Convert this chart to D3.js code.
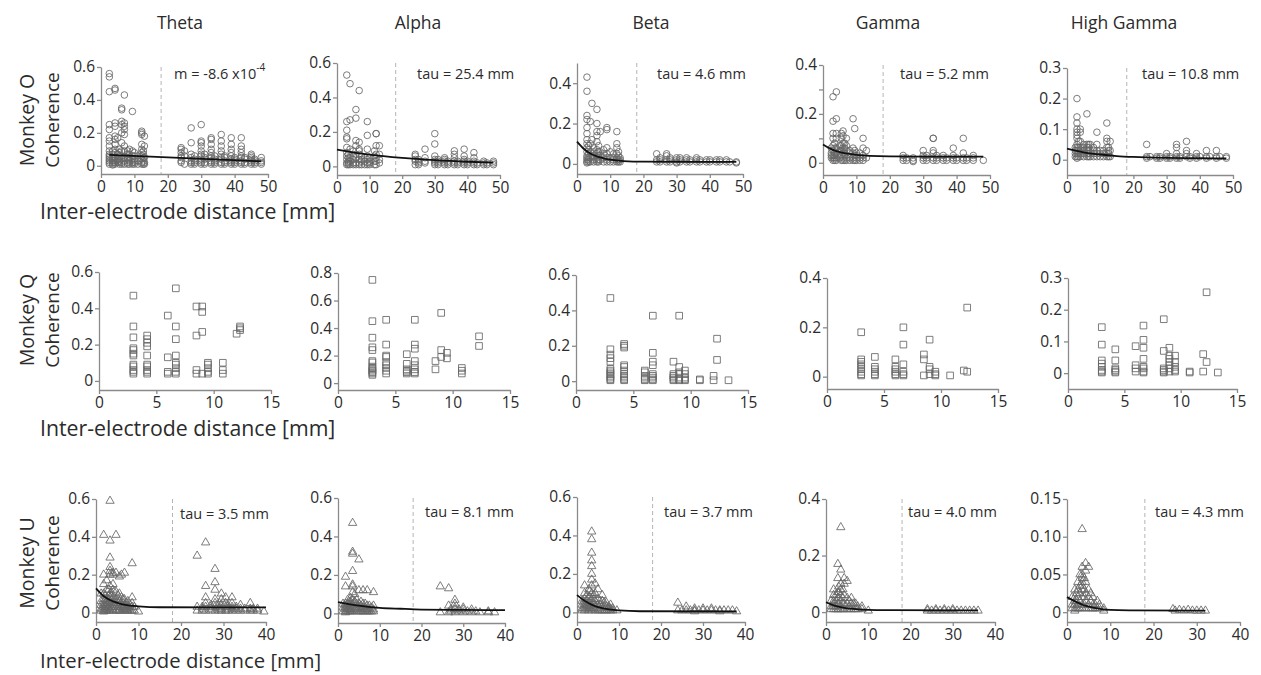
<!DOCTYPE html>
<html><head><meta charset="utf-8">
<script src="https://cdn.jsdelivr.net/npm/d3@7"></script>
<style>
body{margin:0;background:#fff;}
svg{display:block;font-family:"Open Sans","Noto Sans",sans-serif;}
</style></head><body>
<svg id="fig" width="1261" height="675"></svg>
<script>
const bands = ["Theta", "Alpha", "Beta", "Gamma", "High Gamma"];
const monkeys = ["Monkey O", "Monkey Q", "Monkey U"];
const yTitle = "Coherence";
const xTitle = "Inter-electrode distance [mm]";

// Coherence values grouped by inter-electrode distance: [distance, [coherence...]]
// Monkey O (circles)
const oTheta = [
  [2.5,[0.56,0.54,0.45,0.25,0.22,0.17,0.15,0.12,0.09,0.07,0.06,0.05,0.04,0.03,0.02,0.01]],
  [3.5,[0.09,0.07,0.05,0.04,0.03,0.02,0.01,0.005]],
  [4.2,[0.47,0.46,0.26,0.24,0.18,0.16,0.13,0.1,0.08,0.05,0.03,0.02,0.01]],
  [5,[0.17,0.07,0.04,0.02]],
  [5.5,[0.1,0.08,0.06,0.04,0.03,0.02,0.01]],
  [6.2,[0.35,0.34,0.27,0.25,0.2,0.14,0.09,0.06,0.04,0.02,0.01]],
  [7,[0.43,0.26,0.24,0.22,0.19,0.12,0.09,0.05,0.03,0.01]],
  [8,[0.09,0.07,0.05,0.04,0.02,0.01]],
  [8.5,[0.1,0.07,0.05,0.03,0.01]],
  [9.4,[0.33,0.09,0.06,0.04,0.02,0.01]],
  [10,[0.08,0.06,0.04,0.03,0.02,0.01]],
  [11,[0.06,0.03,0.01]],
  [12.2,[0.21,0.2,0.19,0.13,0.1,0.08,0.06,0.04,0.02,0.01]],
  [12.7,[0.09,0.07,0.05,0.03,0.01]],
  [13,[0.18,0.12,0.05,0.02,0.01]],
  [24,[0.11,0.1,0.08,0.06,0.05,0.03,0.02]],
  [25,[0.09,0.06,0.01]],
  [27,[0.23,0.14,0.07,0.05,0.03,0.02,0.01]],
  [28,[0.06,0.04,0.03,0.02,0.01]],
  [30,[0.25,0.15,0.14,0.12,0.09,0.07,0.06,0.04,0.03,0.02,0.01]],
  [31,[0.07,0.05,0.04,0.02,0.01]],
  [33,[0.17,0.16,0.13,0.1,0.08,0.06,0.05,0.03,0.02,0.01]],
  [34,[0.06,0.04,0.03,0.02,0.01]],
  [36,[0.19,0.15,0.12,0.09,0.07,0.05,0.04,0.02,0.01]],
  [37,[0.06,0.05,0.03,0.02,0.01]],
  [39,[0.17,0.13,0.1,0.08,0.06,0.04,0.03,0.02,0.01]],
  [40,[0.05,0.04,0.03,0.02,0.01]],
  [42,[0.17,0.12,0.1,0.08,0.06,0.05,0.03,0.02,0.01]],
  [43,[0.05,0.04,0.02,0.01]],
  [45,[0.07,0.06,0.05,0.04,0.03,0.02,0.01]],
  [46,[0.04,0.03,0.02,0.01]],
  [48,[0.05,0.03,0.02,0.01]]
];
const oAlpha = [
  [3,[0.53,0.26,0.21,0.17,0.16,0.11,0.08,0.06,0.04,0.02,0.01]],
  [3.5,[0.07,0.05,0.03,0.02,0.01]],
  [4,[0.48,0.27,0.1,0.05,0.03,0.01]],
  [5,[0.09,0.06,0.04,0.02,0.01]],
  [5.8,[0.33,0.28,0.15,0.12,0.07,0.05,0.02,0.01]],
  [6.8,[0.44,0.14,0.1,0.09,0.07,0.04,0.02,0.01]],
  [7.5,[0.06,0.04,0.03,0.01]],
  [8.5,[0.05,0.03,0.01]],
  [9.3,[0.26,0.18,0.1,0.06,0.04,0.02,0.01]],
  [10,[0.05,0.03,0.02,0.01]],
  [11.5,[0.09,0.06,0.03,0.01]],
  [12,[0.19,0.19,0.12,0.07,0.05,0.03,0.01]],
  [13,[0.12,0.07,0.04,0.02]],
  [24,[0.07,0.06,0.04,0.03,0.01]],
  [25,[0.04,0.03,0.02,0.01]],
  [27,[0.1,0.05,0.03,0.02]],
  [30,[0.19,0.13,0.06,0.04,0.03,0.02,0.01]],
  [31,[0.04,0.03,0.02,0.01]],
  [33,[0.05,0.04,0.03,0.02,0.01]],
  [34,[0.03,0.02,0.01]],
  [36,[0.09,0.07,0.05,0.03,0.02,0.01]],
  [37,[0.03,0.02,0.01]],
  [39,[0.1,0.06,0.04,0.03,0.02,0.01]],
  [40,[0.03,0.02,0.01]],
  [42,[0.08,0.05,0.03,0.02,0.01]],
  [43,[0.02,0.01]],
  [45,[0.03,0.02,0.01]],
  [46,[0.02,0.01]],
  [48,[0.03,0.02,0.01]]
];
const oBeta = [
  [3,[0.43,0.36,0.24,0.22,0.18,0.15,0.12,0.1,0.08,0.06,0.04,0.03,0.02,0.01,0.005]],
  [3.5,[0.09,0.07,0.05,0.03,0.02,0.01]],
  [4,[0.21,0.1,0.06,0.03,0.01]],
  [4.5,[0.3,0.12,0.04]],
  [5,[0.08,0.06,0.04,0.02,0.01]],
  [6,[0.27,0.2,0.16,0.14,0.11,0.07,0.05,0.03,0.02,0.01]],
  [6.5,[0.09,0.06,0.04,0.02,0.01]],
  [7,[0.16,0.06,0.04,0.02]],
  [8,[0.07,0.05,0.03,0.01]],
  [9,[0.18,0.17,0.08,0.05,0.03,0.02,0.01]],
  [10,[0.06,0.03,0.01]],
  [11,[0.05,0.03,0.02,0.01]],
  [12,[0.16,0.1,0.08,0.05,0.03,0.02,0.01]],
  [12.5,[0.06,0.04,0.02,0.01]],
  [13,[0.03,0.02,0.01]],
  [24,[0.05,0.02,0.01]],
  [25,[0.03,0.02,0.01]],
  [27,[0.05,0.04,0.02,0.01]],
  [28,[0.03,0.02,0.01]],
  [30,[0.03,0.02,0.01,0.005]],
  [31,[0.03,0.02,0.01]],
  [33,[0.03,0.02,0.01]],
  [34,[0.02,0.01]],
  [36,[0.03,0.02,0.01]],
  [37,[0.02,0.01]],
  [39,[0.02,0.01]],
  [40,[0.02,0.01]],
  [42,[0.02,0.01]],
  [43,[0.02,0.01]],
  [45,[0.02,0.01]],
  [46,[0.01]],
  [48,[0.01,0.005]]
];
const oGamma = [
  [2.5,[0.06,0.04,0.03,0.02]],
  [3,[0.27,0.17,0.12,0.1,0.07,0.05,0.03,0.02,0.01]],
  [3.5,[0.08,0.06,0.04,0.03,0.02,0.01]],
  [4,[0.29,0.18,0.12,0.1,0.06,0.04,0.02,0.01]],
  [5,[0.07,0.05,0.04,0.02]],
  [5.5,[0.12,0.1,0.07,0.05,0.03,0.01]],
  [6,[0.13,0.11,0.08,0.06,0.04,0.02,0.01]],
  [6.5,[0.08,0.06,0.04,0.03,0.01]],
  [7,[0.1,0.07,0.05,0.02,0.01]],
  [8,[0.05,0.04,0.02,0.01]],
  [9,[0.18,0.06,0.04,0.02,0.01]],
  [9.5,[0.14,0.05,0.03,0.01]],
  [10,[0.04,0.03,0.02,0.01]],
  [11,[0.04,0.02,0.01]],
  [12,[0.1,0.06,0.03,0.02,0.01]],
  [13,[0.05,0.02]],
  [24,[0.03,0.02,0.01]],
  [25,[0.02,0.01]],
  [27,[0.02,0.01,0.005]],
  [30,[0.05,0.03,0.02,0.01]],
  [31,[0.03,0.02,0.01]],
  [33,[0.1,0.1,0.05,0.04,0.02,0.01]],
  [34,[0.03,0.02,0.01]],
  [36,[0.03,0.02,0.01]],
  [37,[0.02,0.01]],
  [39,[0.06,0.03,0.02,0.01]],
  [40,[0.02,0.01]],
  [42,[0.1,0.04,0.02,0.01]],
  [43,[0.02,0.01]],
  [45,[0.03,0.02,0.01]],
  [48,[0.01]]
];
const oHighGamma = [
  [2.5,[0.04,0.03,0.02,0.01]],
  [3,[0.2,0.14,0.12,0.1,0.09,0.08,0.07,0.05,0.04,0.03,0.02,0.01,0.005]],
  [3.5,[0.06,0.04,0.03,0.02,0.01]],
  [4,[0.1,0.09,0.06,0.04,0.03,0.02,0.01]],
  [5,[0.05,0.04,0.03,0.02,0.01]],
  [6,[0.15,0.05,0.04,0.03,0.02,0.01]],
  [6.5,[0.05,0.04,0.03,0.02,0.01]],
  [7,[0.05,0.03,0.02,0.01]],
  [8,[0.04,0.03,0.02,0.01]],
  [9,[0.09,0.05,0.03,0.02,0.01]],
  [10,[0.03,0.02,0.01]],
  [11,[0.03,0.02,0.01]],
  [12,[0.12,0.07,0.06,0.04,0.02,0.01]],
  [12.5,[0.04,0.03,0.02,0.01]],
  [13,[0.06,0.03,0.01]],
  [24,[0.05,0.01,0.005]],
  [25,[0.01]],
  [27,[0.01,0.005]],
  [28,[0.01,0.005]],
  [30,[0.02,0.01,0.005]],
  [31,[0.01,0.005]],
  [33,[0.05,0.04,0.02,0.01,0.005]],
  [34,[0.01,0.005]],
  [36,[0.06,0.03,0.02,0.01]],
  [37,[0.01,0.005]],
  [39,[0.02,0.01,0.005]],
  [40,[0.01]],
  [42,[0.03,0.01,0.005]],
  [43,[0.01]],
  [45,[0.03,0.01,0.005]],
  [46,[0.01]],
  [48,[0.01,0.005]]
];

// Monkey Q (squares)
const qTheta = [
  [3,[0.47,0.3,0.24,0.18,0.17,0.15,0.14,0.09,0.08,0.06,0.05,0.04]],
  [4.2,[0.25,0.23,0.21,0.19,0.14,0.09,0.08,0.06,0.05,0.04]],
  [6,[0.36,0.13,0.05,0.04]],
  [6.7,[0.51,0.3,0.23,0.14,0.1,0.09,0.07,0.05,0.04]],
  [8.5,[0.41,0.25,0.06,0.04]],
  [9,[0.41,0.38,0.27,0.04]],
  [9.5,[0.1,0.09,0.07,0.05,0.04]],
  [10.8,[0.1,0.06,0.04]],
  [12,[0.26]],
  [12.3,[0.3,0.29,0.28]]
];
const qAlpha = [
  [3,[0.75,0.45,0.33,0.26,0.24,0.16,0.15,0.12,0.11,0.1,0.09,0.08,0.07,0.06]],
  [4.2,[0.46,0.28,0.2,0.19,0.15,0.13,0.11,0.09,0.07]],
  [6,[0.21,0.14,0.1,0.09,0.08,0.07]],
  [6.7,[0.46,0.28,0.25,0.16,0.13,0.1,0.08,0.07]],
  [8.5,[0.16,0.1]],
  [9,[0.51,0.24,0.19]],
  [9.5,[0.22,0.18]],
  [10.8,[0.11,0.09,0.07]],
  [12.3,[0.34,0.27]]
];
const qBeta = [
  [3,[0.47,0.18,0.15,0.13,0.11,0.07,0.06,0.05,0.04,0.03,0.02,0.01,0.005]],
  [4.2,[0.21,0.2,0.19,0.09,0.08,0.06,0.04,0.03,0.02,0.01,0.005]],
  [6,[0.06,0.05,0.03,0.02,0.01,0.005]],
  [6.7,[0.37,0.16,0.11,0.09,0.04,0.03,0.02,0.01,0.005]],
  [8.5,[0.11,0.04,0.03,0.02,0.01,0.005]],
  [9,[0.37,0.08,0.05,0.04,0.02,0.01,0.005]],
  [9.5,[0.06,0.04,0.02,0.01,0.005]],
  [10.8,[0.01,0.005]],
  [12,[0.03,0.005]],
  [12.3,[0.24,0.12]],
  [13.3,[0.005]]
];
const qGamma = [
  [3,[0.18,0.07,0.06,0.05,0.04,0.03,0.02,0.01,0.005]],
  [4.2,[0.08,0.04,0.03,0.02,0.01,0.005]],
  [6,[0.07,0.04,0.03,0.02,0.01,0.005]],
  [6.7,[0.2,0.13,0.05,0.02,0.01,0.005]],
  [8.5,[0.09,0.07,0.005]],
  [9,[0.15,0.04,0.03,0.01]],
  [9.5,[0.02,0.01,0.005]],
  [10.8,[0.005]],
  [12,[0.025]],
  [12.3,[0.28,0.02]]
];
const qHighGamma = [
  [3,[0.145,0.09,0.04,0.03,0.02,0.01,0.005,0.002]],
  [4.2,[0.075,0.04,0.015,0.01,0.005,0.002]],
  [6,[0.085,0.025,0.015,0.005]],
  [6.7,[0.15,0.105,0.08,0.045,0.02,0.015,0.005,0.002]],
  [8.5,[0.17,0.07,0.015,0.01,0.005,0.002]],
  [9,[0.08,0.055,0.045,0.035,0.025,0.015,0.005]],
  [9.5,[0.055,0.035,0.02,0.01,0.005]],
  [10.8,[0.005,0.002]],
  [12,[0.06,0.005]],
  [12.3,[0.255,0.035]],
  [13.3,[0.002]]
];

// Monkey U (triangles)
const uTheta = [
  [1.2,[0.1,0.06,0.04,0.02,0.01]],
  [1.8,[0.41,0.2,0.15,0.1,0.07,0.05,0.03,0.02,0.01,0.005]],
  [2.2,[0.09,0.07,0.05,0.03,0.01]],
  [2.5,[0.17,0.12,0.06,0.04,0.02,0.01]],
  [3,[0.12,0.09,0.07,0.05,0.03,0.01]],
  [3.3,[0.59,0.38,0.29,0.24,0.22,0.2,0.14,0.1,0.08,0.06,0.04,0.02,0.01]],
  [3.8,[0.1,0.07,0.05,0.03,0.02]],
  [4,[0.21,0.2,0.15,0.12,0.08,0.05,0.03,0.01]],
  [4.7,[0.41,0.21,0.11,0.07,0.05,0.03,0.01]],
  [5.2,[0.09,0.07,0.05,0.03,0.01]],
  [5.5,[0.19,0.1,0.06,0.04,0.02,0.01]],
  [6,[0.2,0.08,0.05,0.03,0.01]],
  [6.4,[0.07,0.05,0.03,0.02]],
  [6.7,[0.21,0.07,0.04,0.02,0.01]],
  [7.2,[0.05,0.03,0.02,0.01]],
  [7.5,[0.06,0.03,0.01]],
  [8,[0.04,0.02,0.01]],
  [8.5,[0.26,0.08,0.05,0.03,0.01]],
  [9,[0.03,0.01]],
  [10,[0.005]],
  [23.8,[0.3,0.03,0.01]],
  [25,[0.03,0.02,0.01]],
  [25.8,[0.37,0.14,0.08,0.05,0.03,0.01]],
  [27,[0.04,0.03,0.02,0.01]],
  [28,[0.23,0.16,0.12,0.07,0.05,0.03,0.01]],
  [29,[0.05,0.03,0.02,0.01]],
  [29.5,[0.1,0.07,0.04,0.02,0.01]],
  [30.5,[0.08,0.05,0.03,0.01]],
  [31,[0.04,0.03,0.02,0.01]],
  [32,[0.08,0.05,0.03,0.02,0.01]],
  [33,[0.03,0.02,0.01]],
  [34,[0.04,0.02,0.01]],
  [35,[0.02,0.01]],
  [36.3,[0.05,0.02,0.01]],
  [37,[0.02,0.01]],
  [38,[0.02,0.01]],
  [39.5,[0.005]]
];
const uAlpha = [
  [1.2,[0.05,0.03,0.01]],
  [1.8,[0.19,0.14,0.05,0.04,0.03,0.02,0.01,0.005]],
  [2.3,[0.07,0.05,0.03,0.02,0.01]],
  [2.8,[0.06,0.04,0.02,0.01]],
  [3,[0.08,0.06,0.04,0.02,0.01]],
  [3.5,[0.47,0.32,0.31,0.22,0.15,0.14,0.11,0.07,0.05,0.03,0.01]],
  [4,[0.1,0.06,0.02]],
  [4.5,[0.07,0.05,0.03,0.02,0.01]],
  [5,[0.28,0.12,0.05,0.03,0.01]],
  [5.5,[0.06,0.04,0.02,0.01]],
  [6,[0.12,0.05,0.03,0.01]],
  [6.5,[0.05,0.03,0.02,0.01]],
  [7,[0.12,0.04,0.02,0.01]],
  [7.5,[0.04,0.02,0.01]],
  [8,[0.03,0.01]],
  [8.5,[0.11,0.04,0.02,0.01]],
  [24.5,[0.14,0.005]],
  [26.5,[0.13,0.04,0.005]],
  [27,[0.02,0.01]],
  [28,[0.07,0.05,0.03,0.02,0.005]],
  [29,[0.02,0.01]],
  [30,[0.03,0.02,0.005]],
  [31,[0.01]],
  [32,[0.02,0.005]],
  [33,[0.01]],
  [34,[0.005]],
  [36,[0.01,0.005]],
  [37.5,[0.005]]
];
const uBeta = [
  [1.2,[0.06,0.04,0.02,0.01]],
  [1.8,[0.14,0.1,0.07,0.05,0.03,0.02,0.01]],
  [2.3,[0.09,0.06,0.04,0.02]],
  [2.8,[0.12,0.08,0.05,0.03,0.01]],
  [3,[0.11,0.08,0.05,0.03,0.02]],
  [3.5,[0.42,0.38,0.31,0.27,0.24,0.2,0.17,0.14,0.1,0.07,0.04,0.02,0.01]],
  [4,[0.09,0.07,0.04,0.02]],
  [4.3,[0.15,0.1,0.06,0.03,0.01]],
  [5,[0.12,0.07,0.04,0.02,0.01]],
  [5.5,[0.06,0.04,0.02,0.01]],
  [6,[0.09,0.06,0.03,0.01]],
  [6.5,[0.05,0.03,0.01]],
  [7,[0.05,0.03,0.01]],
  [7.5,[0.03,0.02,0.01]],
  [8,[0.04,0.02,0.01]],
  [8.5,[0.02,0.01]],
  [9.5,[0.01]],
  [24,[0.05,0.01]],
  [25,[0.01]],
  [26,[0.03,0.01]],
  [27,[0.01]],
  [28,[0.02,0.01,0.005]],
  [29,[0.01]],
  [30,[0.02,0.01]],
  [31,[0.01]],
  [32,[0.02,0.01]],
  [33,[0.01]],
  [34,[0.01,0.005]],
  [35,[0.01]],
  [36,[0.01]],
  [37,[0.01]],
  [38,[0.005]]
];
const uGamma = [
  [1.2,[0.04,0.02,0.01]],
  [1.8,[0.08,0.06,0.04,0.03,0.02,0.01]],
  [2.3,[0.06,0.04,0.02,0.01]],
  [2.8,[0.17,0.12,0.07,0.05,0.03,0.01]],
  [3,[0.09,0.07,0.05,0.03,0.01]],
  [3.5,[0.3,0.15,0.1,0.08,0.06,0.04,0.02,0.01]],
  [4,[0.08,0.05,0.03,0.01]],
  [4.3,[0.12,0.1,0.06,0.03,0.01]],
  [5,[0.11,0.05,0.03,0.01]],
  [5.5,[0.04,0.02,0.01]],
  [6,[0.05,0.03,0.01]],
  [6.5,[0.03,0.01]],
  [7,[0.03,0.02,0.01]],
  [7.5,[0.02,0.01]],
  [8.5,[0.02,0.01]],
  [10,[0.005]],
  [24,[0.01,0.005]],
  [25,[0.005]],
  [26,[0.01,0.005]],
  [27,[0.005]],
  [28,[0.01,0.005]],
  [29,[0.005]],
  [30,[0.01,0.005]],
  [31,[0.005]],
  [32,[0.005]],
  [33,[0.005]],
  [34,[0.005]],
  [35,[0.005]],
  [36,[0.005]]
];
const uHighGamma = [
  [1.2,[0.02,0.01,0.005]],
  [1.8,[0.03,0.02,0.015,0.01,0.005,0.002]],
  [2.2,[0.025,0.015,0.005]],
  [2.5,[0.04,0.03,0.02,0.01,0.005]],
  [3,[0.05,0.035,0.025,0.015,0.005]],
  [3.5,[0.11,0.06,0.05,0.045,0.04,0.035,0.03,0.02,0.01,0.005]],
  [4,[0.045,0.03,0.02,0.01]],
  [4.3,[0.065,0.055,0.04,0.025,0.015,0.005]],
  [5,[0.06,0.03,0.02,0.01,0.005]],
  [5.5,[0.025,0.015,0.005]],
  [6,[0.02,0.01,0.005]],
  [6.5,[0.01,0.005]],
  [7,[0.015,0.005]],
  [7.5,[0.01,0.005]],
  [8.5,[0.005,0.002]],
  [24.5,[0.004]],
  [25,[0.002]],
  [26,[0.003]],
  [27,[0.002]],
  [28,[0.003]],
  [29,[0.002]],
  [30,[0.002]],
  [31,[0.002]],
  [32,[0.002]]
];

// Fitted curves: [distance, coherence]
const oThetaFit = [[2.5,0.066],[48,0.027]];
const oAlphaFit = [[0,0.098],[10,0.068],[20,0.049],[30,0.036],[40,0.027],[48,0.022]];
const oBetaFit = [[0,0.11],[2,0.075],[4,0.052],[6,0.037],[8,0.028],[10,0.021],[14,0.014],[20,0.011],[48,0.01]];
const oGammaFit = [[0,0.075],[2,0.059],[4,0.048],[6,0.041],[8,0.036],[10,0.032],[14,0.028],[20,0.026],[48,0.025]];
const oHighGammaFit = [[0,0.036],[5,0.024],[10,0.017],[15,0.012],[20,0.009],[30,0.006],[40,0.005],[48,0.004]];
const uThetaFit = [[0,0.128],[2,0.083],[4,0.059],[6,0.045],[8,0.037],[10,0.033],[15,0.028],[40,0.027]];
const uAlphaFit = [[0,0.059],[5,0.04],[10,0.029],[15,0.024],[20,0.02],[30,0.018],[40,0.017]];
const uBetaFit = [[0,0.09],[2,0.058],[4,0.035],[6,0.022],[8,0.014],[10,0.01],[15,0.006],[38,0.005]];
const uGammaFit = [[0,0.035],[2,0.023],[4,0.016],[6,0.012],[8,0.009],[10,0.008],[15,0.007],[36,0.006]];
const uHighGammaFit = [[0,0.02],[2,0.014],[4,0.009],[6,0.006],[8,0.004],[10,0.003],[15,0.0025],[32,0.002]];

// Fit annotations
const oFitLabels = ["m = -8.6 x10", "tau = 25.4 mm", "tau = 4.6 mm", "tau = 5.2 mm", "tau = 10.8 mm"];
const uFitLabels = ["tau = 3.5 mm", "tau = 8.1 mm", "tau = 3.7 mm", "tau = 4.0 mm", "tau = 4.3 mm"];

// Axis domains and ticks
const xDomains = [[0, 50], [0, 15], [0, 40]];
const xTicks = [[0,10,20,30,40,50], [0,5,10,15], [0,10,20,30,40]];
const yDomains = [
  [[-0.05,0.6],[-0.05,0.6],[-0.05,0.5],[-0.05,0.4],[-0.05,0.3]],
  [[-0.05,0.6],[-0.05,0.8],[-0.05,0.6],[-0.05,0.4],[-0.05,0.3]],
  [[-0.05,0.6],[-0.05,0.6],[-0.05,0.6],[-0.035,0.4],[-0.013,0.15]]
];
const yTicks = [
  [[0,0.2,0.4,0.6],[0,0.2,0.4,0.6],[0,0.2,0.4],[0,0.2,0.4],[0,0.1,0.2,0.3]],
  [[0,0.2,0.4,0.6],[0,0.2,0.4,0.6,0.8],[0,0.2,0.4,0.6],[0,0.2,0.4],[0,0.1,0.2,0.3]],
  [[0,0.2,0.4,0.6],[0,0.2,0.4,0.6],[0,0.2,0.4,0.6],[0,0.2,0.4],[0,0.05,0.10,0.15]]
];
const boundaryDistance = 18;

// Panel frames in pixels (left, right, top, bottom)
const frames = [
  [[101,268,67,174],[337,500,63,175],[577,743,63,174],[823,990,65,175],[1067,1233,68,175]],
  [[99,271,272,390],[338,510,273,390],[576,748,275,390],[827,998,278,389],[1068,1237,278,389]],
  [[96,266,499,622],[338,505,498,623],[577,745,497,622],[826,995,499,622],[1067,1240,499,622]]
];

const pointSets = [
  [oTheta, oAlpha, oBeta, oGamma, oHighGamma],
  [qTheta, qAlpha, qBeta, qGamma, qHighGamma],
  [uTheta, uAlpha, uBeta, uGamma, uHighGamma]
];
const fitSets = [
  [oThetaFit, oAlphaFit, oBetaFit, oGammaFit, oHighGammaFit],
  null,
  [uThetaFit, uAlphaFit, uBetaFit, uGammaFit, uHighGammaFit]
];
const fitLabels = [oFitLabels, null, uFitLabels];
const labelPos = [
  [[174,73],[417,73],[657,73],[900,73],[1142,73]],
  null,
  [[180,513],[425,511],[664,511],[908,511],[1155,511]]
];

const svg = d3.select("#fig");
const axisColor = "#8a8a8a";
const textColor = "#2b2b2b";
const markColor = "#666";

// Column titles
const colCenters = [180, 418, 651, 888, 1124];
svg.selectAll("text.col").data(bands).join("text")
  .attr("class", "col")
  .attr("x", (d, i) => colCenters[i]).attr("y", 22)
  .attr("text-anchor", "middle").attr("dominant-baseline", "central")
  .attr("font-size", 17.5).attr("fill", textColor).text(d => d);

// Row labels
const rowCenters = [120, 320, 563];
monkeys.forEach((m, r) => {
  svg.append("text")
    .attr("transform", `translate(26,${rowCenters[r]}) rotate(-90)`)
    .attr("text-anchor", "middle").attr("dominant-baseline", "central")
    .attr("font-size", 19.5).attr("fill", textColor).text(m);
  svg.append("text")
    .attr("transform", `translate(52,${rowCenters[r]}) rotate(-90)`)
    .attr("text-anchor", "middle").attr("dominant-baseline", "central")
    .attr("font-size", 19).attr("fill", textColor).text(yTitle);
});

// X titles
const xTitleY = [210, 427, 660];
const xTitleSize = [21.3, 21.3, 20.3];
xTitleY.forEach((y, i) => {
  svg.append("text").attr("x", 40).attr("y", y)
    .attr("dominant-baseline", "central")
    .attr("font-size", xTitleSize[i]).attr("fill", textColor).text(xTitle);
});

const square = d3.symbol(d3.symbolSquare, 44)();
const triangle = d3.symbol(d3.symbolTriangle, 30)();

function styleAxis(g) {
  g.select(".domain").attr("stroke", axisColor).attr("stroke-width", 1.3);
  g.selectAll(".tick line").attr("stroke", axisColor).attr("stroke-width", 1.3);
  g.selectAll(".tick text").attr("fill", textColor).attr("font-size", 15.5)
    .attr("font-family", '"Open Sans","Noto Sans",sans-serif');
}

for (let r = 0; r < 3; r++) {
  for (let c = 0; c < 5; c++) {
    const [l, rt, t, b] = frames[r][c];
    const x = d3.scaleLinear().domain(xDomains[r]).range([l, rt]);
    const y = d3.scaleLinear().domain(yDomains[r][c]).range([b, t]);
    const g = svg.append("g");

    // boundary between near and far electrode groups
    if (r !== 1) {
      g.append("line")
        .attr("x1", x(boundaryDistance)).attr("x2", x(boundaryDistance))
        .attr("y1", t).attr("y2", b)
        .attr("stroke", "#b5b5b5").attr("stroke-width", 1)
        .attr("stroke-dasharray", "4,3");
    }

    // axes
    const fmt = (r === 2 && c === 4) ? (v => v === 0 ? "0" : d3.format(".2f")(v)) : (v => v === 0 ? "0" : String(v));
    const ya = g.append("g").attr("transform", `translate(${l},0)`)
      .call(d3.axisLeft(y).tickValues(yTicks[r][c]).tickFormat(fmt).tickSize(4).tickSizeOuter(0).tickPadding(2));
    styleAxis(ya);
    if (r === 0 && c === 3) {
      const minor = g.append("g").attr("transform", `translate(${l},0)`)
        .call(d3.axisLeft(y).tickValues([0.1, 0.3]).tickFormat("").tickSize(4).tickSizeOuter(0));
      minor.select(".domain").remove();
      minor.selectAll(".tick line").attr("stroke", axisColor).attr("stroke-width", 1.3);
    }
    const xa = g.append("g").attr("transform", `translate(0,${b})`)
      .call(d3.axisBottom(x).tickValues(xTicks[r]).tickSize(4).tickSizeOuter(0).tickPadding(3));
    styleAxis(xa);

    // points
    const pts = pointSets[r][c].flatMap(([d, ys]) => ys.map(v => [d, v]));
    const mk = g.append("g").attr("fill", "none").attr("stroke", markColor)
      .attr("stroke-width", 1).attr("stroke-opacity", 0.85);
    if (r === 0) {
      mk.selectAll("circle").data(pts).join("circle")
        .attr("cx", d => x(d[0])).attr("cy", d => y(d[1])).attr("r", 3.3);
    } else if (r === 1) {
      mk.selectAll("path").data(pts).join("path")
        .attr("d", square).attr("transform", d => `translate(${x(d[0])},${y(d[1])})`);
    } else {
      mk.selectAll("path").data(pts).join("path")
        .attr("d", triangle).attr("transform", d => `translate(${x(d[0])},${y(d[1])})`);
    }

    // fitted curve
    if (fitSets[r]) {
      g.append("path").datum(fitSets[r][c])
        .attr("fill", "none").attr("stroke", "#111").attr("stroke-width", 1.8)
        .attr("d", d3.line().x(d => x(d[0])).y(d => y(d[1])).curve(d3.curveMonotoneX));
      const [lx, ly] = labelPos[r][c];
      const tx = g.append("text").attr("x", lx).attr("y", ly)
        .attr("dominant-baseline", "central").attr("font-size", 14.5).attr("fill", textColor)
        .text(fitLabels[r][c]);
      if (r === 0 && c === 0) {
        tx.append("tspan").attr("font-size", 10).attr("dy", -6).text("-4");
      }
    }
  }
}
</script>
</body></html>
